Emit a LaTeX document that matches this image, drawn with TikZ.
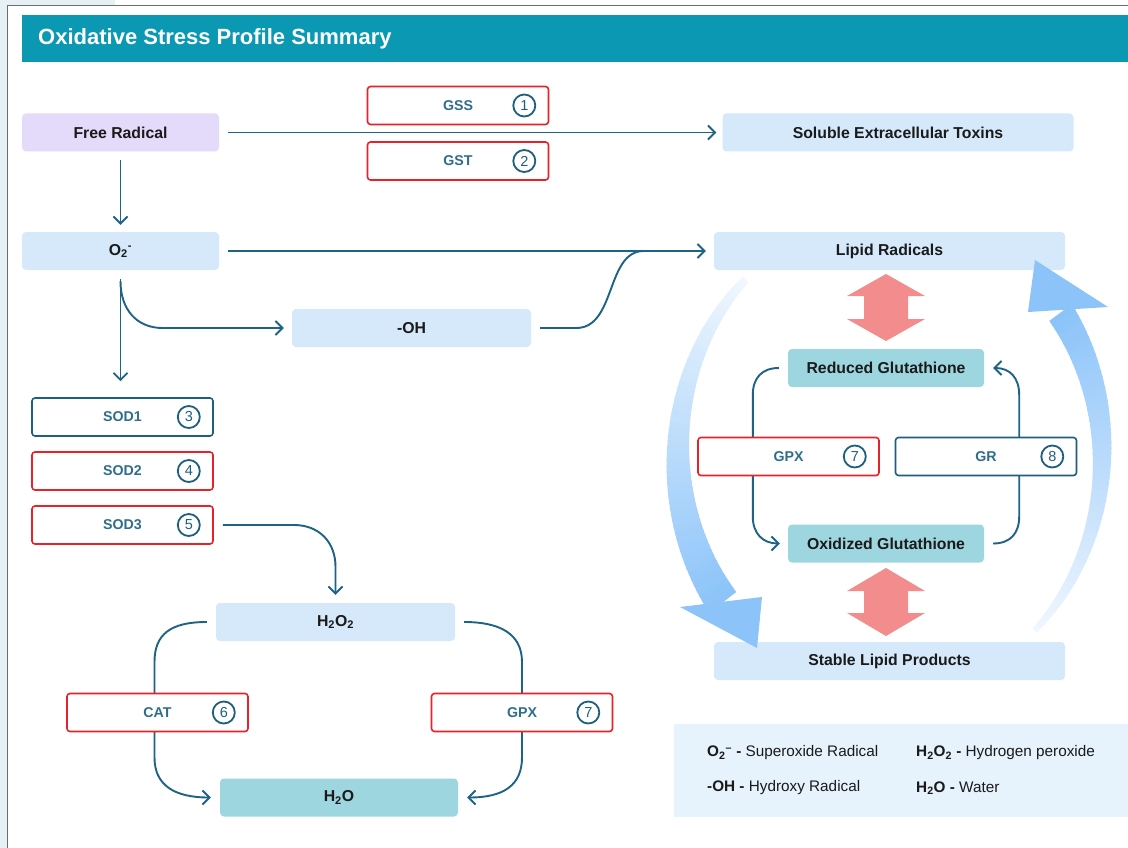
\documentclass[tikz,border=0pt]{standalone}
\usepackage{fontspec}
\setmainfont{Liberation Sans}
\usetikzlibrary{arrows.meta,calc}

\definecolor{headerteal}{HTML}{0A98B3}
\definecolor{lavender}{HTML}{E4DAF9}
\definecolor{skyfill}{HTML}{D5E9FB}
\definecolor{tealfill}{HTML}{9ED6E0}
\definecolor{ink}{HTML}{1A1A1A}
\definecolor{enztext}{HTML}{2E6E8C}
\definecolor{darkteal}{HTML}{1F5F7E}
\definecolor{flowline}{HTML}{1E6385}
\definecolor{alertred}{HTML}{E8212B}
\definecolor{salmon}{HTML}{F38C8C}
\definecolor{arcblue}{HTML}{8CC4F9}
\definecolor{arcpale}{HTML}{F1F7FE}
\definecolor{legendfill}{HTML}{E6F2FC}
\definecolor{edgefill}{HTML}{E6F1F6}
\definecolor{framegray}{HTML}{6E6E6E}

\newcommand\lblfont{\fontsize{15.8}{18}\selectfont\bfseries}
\newcommand\enzfont{\fontsize{14.2}{16}\selectfont\bfseries}
\newcommand\numfont{\fontsize{14.5}{16}\selectfont}
\newcommand\legfont{\fontsize{15.3}{18}\selectfont}
\newcommand\titlefont{\fontsize{22}{26}\selectfont\bfseries}

\pgfdeclarelayer{paper}
\pgfdeclarelayer{wires}
\pgfsetlayers{paper,wires,main}

\tikzset{
  box/.style={rounded corners=4pt, minimum height=38pt, inner sep=0pt, text=ink, font=\lblfont},
  skybox/.style={box, fill=skyfill},
  tealbox/.style={box, fill=tealfill},
  enz/.style={draw=#1, line width=1.6pt, fill=white, rounded corners=3pt,
    minimum width=181pt, minimum height=38pt, inner sep=0pt, text=enztext, font=\enzfont},
  badge/.style={circle, draw=darkteal, line width=1.8pt, minimum size=22pt,
    inner sep=0pt, text=darkteal, font=\numfont},
  flow/.style={draw=flowline, line width=1.9pt},
  flowarrow/.style={flow, -{Straight Barb[length=7pt,width=14pt]}},
  legtext/.style={anchor=west, font=\legfont, text=ink, inner sep=0pt},
}

\begin{document}
\begin{tikzpicture}[x=1pt,y=-1pt]
\useasboundingbox (0,0) rectangle (1128,848);

% page, frame and header
\begin{pgfonlayer}{paper}
  \fill[white] (0,0) rectangle (1128,848);
  \fill[edgefill] (0,0) rectangle (7,848);
  \fill[edgefill] (0,0) rectangle (115,5);
  \draw[framegray, line width=1pt] (7,848) -- (7,5.5) -- (1128,5.5);
  \fill[headerteal] (22,15) rectangle (1128,62);
  \fill[legendfill] (674,724) rectangle (1128,817);
\end{pgfonlayer}

\node[anchor=west, text=white, font=\titlefont, inner sep=0pt] (title) at (38,38.5) {Oxidative Stress Profile Summary};

% main species
\node[box, fill=lavender, minimum width=197pt] (free) at (120.5,132.5) {Free Radical};
\node[skybox, minimum width=351pt] (tox) at (898,132.5) {Soluble Extracellular Toxins};
\node[skybox, minimum width=197pt] (o2) at (120.5,251) {O\textsubscript{2}\textsuperscript{-}};
\node[skybox, minimum width=351pt] (lipid) at (889.5,251) {Lipid Radicals};
\node[skybox, minimum width=239pt] (oh) at (411.5,328) {-OH};
\node[skybox, minimum width=239pt] (h2o2) at (335.5,622) {H\textsubscript{2}O\textsubscript{2}};
\node[tealbox, minimum width=238pt] (h2o) at (339,797.5) {H\textsubscript{2}O};
\node[tealbox, minimum width=196pt] (red) at (886,368) {Reduced Glutathione};
\node[tealbox, minimum width=196pt] (ox) at (886,543.5) {Oxidized Glutathione};
\node[skybox, minimum width=351pt] (stable) at (889.5,661) {Stable Lipid Products};

% enzymes with their reference numbers
\node[enz=alertred] (gss) at (458,105.5) {GSS};
\node[badge] (gssn) at ($(gss.east)+(-25,0)$) {1};
\node[enz=alertred] (gst) at (458,161) {GST};
\node[badge] (gstn) at ($(gst.east)+(-25,0)$) {2};
\node[enz=darkteal] (sod1) at (122.5,417) {SOD1};
\node[badge] (sod1n) at ($(sod1.east)+(-25,0)$) {3};
\node[enz=alertred] (sod2) at (122.5,471) {SOD2};
\node[badge] (sod2n) at ($(sod2.east)+(-25,0)$) {4};
\node[enz=alertred] (sod3) at (122.5,525) {SOD3};
\node[badge] (sod3n) at ($(sod3.east)+(-25,0)$) {5};
\node[enz=alertred] (cat) at (157.5,712.5) {CAT};
\node[badge] (catn) at ($(cat.east)+(-25,0)$) {6};
\node[enz=alertred] (gpxa) at (522,712.5) {GPX};
\node[badge] (gpxan) at ($(gpxa.east)+(-25,0)$) {7};
\node[enz=alertred] (gpxb) at (788.5,456.5) {GPX};
\node[badge] (gpxbn) at ($(gpxb.east)+(-25,0)$) {7};
\node[enz=darkteal] (gr) at (986,456.5) {GR};
\node[badge] (grn) at ($(gr.east)+(-25,0)$) {8};

% connectors
\begin{pgfonlayer}{wires}
  \draw[flowarrow] ([xshift=9pt]free.east) -- ([xshift=-6pt]tox.west);
  \draw[flowarrow] ([yshift=-8pt]free.south) -- ([yshift=7pt]o2.north);
  \draw[flowarrow] ([xshift=9pt]o2.east) -- ([xshift=-8pt]lipid.west);
  \draw[flowarrow] ([yshift=-9pt]o2.south) -- ($(o2.south |- sod1.north)+(0,-16)$);
  \draw[flowarrow] ([yshift=-11pt]o2.south) .. controls +(0,28) and +(-26,0) ..
    ($(o2.south |- oh.west)+(42,0)$) -- ([xshift=-8pt]oh.west);
  \draw[flow] ([xshift=9pt]oh.east) -- ++(36,0) .. controls +(40,0) and +(-38,0) ..
    ($(lipid.west)+(-70,0)$);
  \draw[flowarrow] ([xshift=9pt]sod3.east) -- ($(sod3.east)+(80,0)$)
    .. controls +(26,0) and +(0,-24) .. ($(h2o2.north)+(0,-36)$) -- ([yshift=8pt]h2o2.north);
  % catalase / peroxidase loop
  \draw[flowarrow] ([xshift=-9pt]h2o2.west) .. controls +(-36,0) and +(0,-28) ..
    ($(h2o2.west -| cat.north)+(-3,40)$) -- ($(h2o.west -| cat.south)+(-3,-40)$)
    .. controls +(0,28) and +(-36,0) .. ([xshift=-9pt]h2o.west);
  \draw[flowarrow] ([xshift=9pt]h2o2.east) .. controls +(36,0) and +(0,-28) ..
    ($(h2o2.east -| gpxa.north)+(0,40)$) -- ($(h2o.east -| gpxa.south)+(0,-40)$)
    .. controls +(0,28) and +(36,0) .. ([xshift=9pt]h2o.east);
  % glutathione cycle
  \draw[flowarrow] ([xshift=-9pt]red.west) .. controls +(-17,0) and +(0,-17) ..
    ($(red.west)+(-35,27)$) -- ($(ox.west)+(-35,-27)$)
    .. controls +(0,17) and +(-17,0) .. ([xshift=-8pt]ox.west);
  \draw[flowarrow] ([xshift=9pt]ox.east) .. controls +(17,0) and +(0,17) ..
    ($(ox.east)+(35,-27)$) -- ($(red.east)+(35,27)$)
    .. controls +(0,-17) and +(17,0) .. ([xshift=9pt]red.east);
\end{pgfonlayer}

% two-way exchange arrows
\fill[salmon] (886,274) -- (925,296) -- (908,296) -- (908,319) -- (925,319) -- (886,341)
  -- (847,319) -- (864,319) -- (864,296) -- (847,296) -- cycle;
\fill[salmon] (886,568) -- (925,591) -- (908,591) -- (908,613) -- (925,613) -- (886,636)
  -- (847,613) -- (864,613) -- (864,591) -- (847,591) -- cycle;

% large circular arrows around the glutathione cycle, built from
% short tapered segments whose colour fades along the arc
\foreach \i in {0,...,59}{
  \pgfmathsetmacro\ta{227-84.5*\i/60}
  \pgfmathsetmacro\tb{227-84.5*(\i+1.3)/60}
  \pgfmathsetmacro\wa{(8+26*\i/60)/2}
  \pgfmathsetmacro\wb{(8+26*(\i+1.3)/60)/2}
  \pgfmathsetmacro\p{100*\i/59}
  \fill[arcblue!\p!arcpale]
    ({890+(212+\wa)*cos(\ta)},{455+(240+\wa)*sin(\ta)}) --
    ({890+(212+\wb)*cos(\tb)},{455+(240+\wb)*sin(\tb)}) --
    ({890+(212-\wb)*cos(\tb)},{455+(240-\wb)*sin(\tb)}) --
    ({890+(212-\wa)*cos(\ta)},{455+(240-\wa)*sin(\ta)}) -- cycle;
}
\fill[arcblue] (680,607) -- (757,648) -- (762,597) -- cycle;

\foreach \i in {0,...,59}{
  \pgfmathsetmacro\ta{47-83*\i/60}
  \pgfmathsetmacro\tb{47-83*(\i+1.3)/60}
  \pgfmathsetmacro\wa{(6+22*\i/60)/2}
  \pgfmathsetmacro\wb{(6+22*(\i+1.3)/60)/2}
  \pgfmathsetmacro\p{100*\i/59}
  \fill[arcblue!\p!arcpale]
    ({890+(212+\wa)*cos(\ta)},{455+(240+\wa)*sin(\ta)}) --
    ({890+(212+\wb)*cos(\tb)},{455+(240+\wb)*sin(\tb)}) --
    ({890+(212-\wb)*cos(\tb)},{455+(240-\wb)*sin(\tb)}) --
    ({890+(212-\wa)*cos(\ta)},{455+(240-\wa)*sin(\ta)}) -- cycle;
}
\fill[arcblue] (1028,312) -- (1035,260) -- (1108,307) -- cycle;

% legend
\node[legtext] (lg1) at (707,753) {\textbf{O\textsubscript{2}\textsuperscript{–} -} Superoxide Radical};
\node[legtext] (lg2) at (916,753) {\textbf{H\textsubscript{2}O\textsubscript{2} -} Hydrogen peroxide};
\node[legtext] (lg3) at (707,788) {\textbf{-OH -} Hydroxy Radical};
\node[legtext] (lg4) at (916,788) {\textbf{H\textsubscript{2}O -} Water};
\end{tikzpicture}
\end{document}
